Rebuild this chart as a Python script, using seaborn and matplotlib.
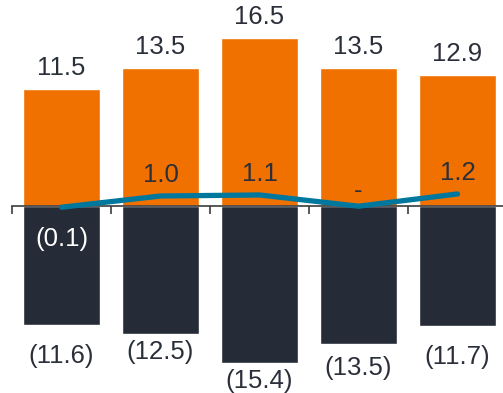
import numpy as np
import pandas as pd
import matplotlib
matplotlib.use("Agg")
import matplotlib.pyplot as plt
import seaborn as sns

categories = ["P1", "P2", "P3", "P4", "P5"]
inflows = [11.5, 13.5, 16.5, 13.5, 12.9]
outflows = [-11.6, -12.5, -15.4, -13.5, -11.7]
net = [-0.1, 1.0, 1.1, 0.0, 1.2]
inflow_labels = ["11.5", "13.5", "16.5", "13.5", "12.9"]
outflow_labels = ["(11.6)", "(12.5)", "(15.4)", "(13.5)", "(11.7)"]
net_labels = ["(0.1)", "1.0", "1.1", "-", "1.2"]

ORANGE = "#F07000"
NAVY = "#262B38"
TEAL = "#00789E"
TEXT = "#2B2F3A"

sns.set_theme(style="white")
plt.rcParams["font.family"] = ["Liberation Sans", "DejaVu Sans"]

df = pd.DataFrame({"cat": categories, "inflow": inflows, "outflow": outflows, "net": net})
df["pos"] = np.arange(len(df))

fig = plt.figure(figsize=(5.03, 3.93), dpi=100)
ax = fig.add_axes([12 / 503, 0, 495 / 503, 1])

sns.barplot(data=df, x="cat", y="inflow", color=ORANGE, saturation=1, width=0.78, ax=ax, zorder=2)
sns.barplot(data=df, x="cat", y="outflow", color=NAVY, saturation=1, width=0.78, ax=ax, zorder=2)
sns.lineplot(data=df, x="pos", y="net", color=TEAL, linewidth=3.8, ax=ax, zorder=5,
             solid_capstyle="round", solid_joinstyle="round")

ax.set_xlim(-0.5, 4.5)
ax.set_ylim(-18.3, 20.2)

for s in ["top", "left", "right"]:
    ax.spines[s].set_visible(False)
ax.spines["bottom"].set_position(("data", 0))
ax.spines["bottom"].set_color("#3C3C3C")
ax.spines["bottom"].set_linewidth(1.2)
ax.spines["bottom"].set_zorder(4)
ax.set_xticks(np.arange(-0.5, 5.0, 1.0))
ax.set_xticklabels([])
ax.tick_params(axis="x", direction="out", length=6, width=1.2, color="#3C3C3C", bottom=True)
ax.set_yticks([])
ax.set_xlabel("")
ax.set_ylabel("")

px = 72 / 100.0  # points per pixel
fs = 18.5

for i, (v, t) in enumerate(zip(inflows, inflow_labels)):
    ax.annotate(t, (i, v), xytext=(0, 14 * px), textcoords="offset points",
                ha="center", va="baseline", fontsize=fs, color=TEXT)

out_off = [19, 6, 6, 12, 19]
for i, (v, t) in enumerate(zip(outflows, outflow_labels)):
    ax.annotate(t, (i, v), xytext=(0, -out_off[i] * px), textcoords="offset points",
                ha="center", va="top", fontsize=fs, color=TEXT)

net_off = [-33, 14, 14, 8, 14]
for i, (v, t) in enumerate(zip(net, net_labels)):
    if v < 0:
        ax.annotate(t, (i, 0), xytext=(0, net_off[i] * px), textcoords="offset points",
                    ha="center", va="center", fontsize=fs, color="white", zorder=6)
    else:
        ax.annotate(t, (i, v), xytext=(0, net_off[i] * px), textcoords="offset points",
                    ha="center", va="baseline", fontsize=fs, color=TEXT, zorder=6)

fig.savefig("out.png", dpi=100)
